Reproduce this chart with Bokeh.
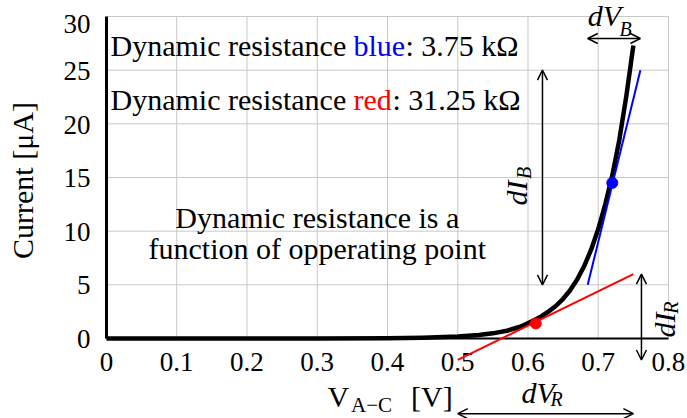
import math
from bokeh.plotting import figure
from bokeh.models import Arrow, OpenHead
from bokeh.core.properties import value
from bokeh.embed import file_html
from bokeh.resources import INLINE

# ---------------- data ----------------
curve_v = [0.00, 0.10, 0.20, 0.30, 0.40, 0.45, 0.50, 0.53, 0.55, 0.57, 0.59,
           0.61, 0.62, 0.63, 0.64, 0.65, 0.66, 0.67, 0.68, 0.69, 0.70,
           0.71, 0.72, 0.73, 0.74, 0.75]
curve_i = [0.00, 0.00, 0.00, 0.00, 0.03, 0.08, 0.18, 0.32, 0.48, 0.72, 1.12,
           1.75, 2.10, 2.55, 3.05, 3.70, 4.50, 5.50, 6.75, 8.30, 10.2,
           12.5, 15.2, 18.5, 22.6, 27.3]

x_ticks = [0.0, 0.1, 0.2, 0.3, 0.4, 0.5, 0.6, 0.7, 0.8]
x_tick_labels = ["0", "0.1", "0.2", "0.3", "0.4", "0.5", "0.6", "0.7", "0.8"]
y_ticks = [0, 5, 10, 15, 20, 25, 30]
y_tick_labels = ["0", "5", "10", "15", "20", "25", "30"]

blue_op_v = [0.72]
blue_op_i = [14.5]
red_op_v = [0.611]
red_op_i = [1.4]

blue_tan_v = [0.685, 0.76]
blue_tan_i = [5.0, 25.0]
red_tan_v = [0.50, 0.75]
red_tan_i = [-2.0, 6.0]

r_blue_txt = ": 3.75 k\u03a9"
r_red_txt = ": 31.25 k\u03a9"

FONT = value("Liberation Serif")
BLACK = "#000000"

p = figure(width=687, height=418, x_range=(-0.15089, 0.82705), y_range=(-7.4536, 31.492),
           output_backend="svg", toolbar_location=None, min_border=0,
           x_axis_location=None, y_axis_location=None)
p.grid.visible = False
p.outline_line_color = None

# grid
vx = x_ticks[1:]
p.segment(x0=vx, y0=[y_ticks[0]] * len(vx), x1=vx, y1=[y_ticks[-1]] * len(vx),
          line_color="#c8c8c8", line_width=1)
hy = y_ticks[1:]
p.segment(x0=[x_ticks[0]] * len(hy), y0=hy, x1=[x_ticks[-1]] * len(hy), y1=hy,
          line_color="#c8c8c8", line_width=1)

# axis lines
p.segment(x0=[x_ticks[0]], y0=[y_ticks[0]], x1=[x_ticks[0]], y1=[y_ticks[-1]],
          line_color=BLACK, line_width=3)
p.segment(x0=[x_ticks[0]], y0=[y_ticks[0]], x1=[x_ticks[-1]], y1=[y_ticks[0]],
          line_color=BLACK, line_width=2)


def lab(x, y, t, size, angle=0.0, italic=False, color=BLACK, align="left"):
    sz = float(size[:-2])
    off = sz / 3.0
    kw = dict(y_offset=-off) if angle == 0.0 else dict(x_offset=-off)
    p.text(x=x if isinstance(x, list) else [x], y=y if isinstance(y, list) else [y],
           text=t if isinstance(t, list) else [t], angle=angle, text_align=align,
           text_baseline="alphabetic", text_font=FONT, text_font_size=size,
           text_font_style="italic" if italic else "normal", text_color=color, **kw)


# tick labels
lab(x_ticks, [-3.0] * len(x_ticks), x_tick_labels, "27px", align="center")
ylab_y = [t - 0.9 if t < 30 else 28.5 for t in y_ticks]
lab([-0.0228] * len(y_ticks), ylab_y, y_tick_labels, "27px", align="right")

# axis titles
lab(-0.1053, 14.72, "Current [\u03bcA]", "30px", angle=math.pi / 2, align="center")
lab(0.3146, -6.34, "V", "30px")
lab(0.3480, -6.83, "A\u2212C", "21px")
lab(0.4335, -6.34, "[V]", "30px")

# curve
p.line(curve_v, curve_i, line_color=BLACK, line_width=4.5, line_join="round")

# tangents
p.line(blue_tan_v, blue_tan_i, line_color="#0000ff", line_width=2)
p.line(red_tan_v, red_tan_i, line_color="#ff0000", line_width=2)

# operating points
p.scatter(blue_op_v, blue_op_i, size=11, fill_color="#0000ff", line_color="#0000ff")
p.scatter(red_op_v, red_op_i, size=11, fill_color="#ff0000", line_color="#ff0000")


# arrows
def dbl_arrow(x0, y0, x1, y1):
    p.add_layout(Arrow(start=OpenHead(size=10, line_width=1.5, line_color=BLACK),
                       end=OpenHead(size=10, line_width=1.5, line_color=BLACK),
                       x_start=x0, y_start=y0, x_end=x1, y_end=y1,
                       line_width=1.5, line_color=BLACK))


dbl_arrow(blue_tan_v[0], 27.95, blue_tan_v[1], 27.95)      # dV_B
dbl_arrow(0.6206, blue_tan_i[0], 0.6206, blue_tan_i[1])    # dI_B
dbl_arrow(0.7615, red_tan_i[0], 0.7615, red_tan_i[1])      # dI_R
dbl_arrow(red_tan_v[0], -7.0, red_tan_v[1], -7.0)          # dV_R

# arrow labels
lab(0.685, 29.16, "dV", "30px", italic=True)
lab(0.7302, 28.25, "B", "20px", italic=True)
lab(0.5907, -5.94, "dV", "30px", italic=True)
lab(0.632, -6.24, "R", "20px", italic=True)
lab(0.5979, 12.39, "dI", "30px", angle=math.pi / 2, italic=True)
lab(0.6036, 14.85, "B", "20px", angle=math.pi / 2, italic=True)
lab(0.8085, 0.09, "dI", "30px", angle=math.pi / 2, italic=True)
lab(0.8128, 2.3, "R", "20px", angle=math.pi / 2, italic=True)

# resistance texts
lab(0.0057, 26.37, "Dynamic resistance", "30px")
lab(0.3516, 26.37, "blue", "30px", color="#0000ff")
lab(0.4256, 26.37, r_blue_txt, "30px")
lab(0.0057, 21.3, "Dynamic resistance", "30px")
lab(0.3516, 21.3, "red", "30px", color="#ff0000")
lab(0.4071, 21.3, r_red_txt, "30px")

lab(0.30, 10.37, "Dynamic resistance is a", "30px", align="center")
lab(0.30, 7.43, "function of opperating point", "30px", align="center")

open("out.html", "w").write(file_html(p, INLINE))
